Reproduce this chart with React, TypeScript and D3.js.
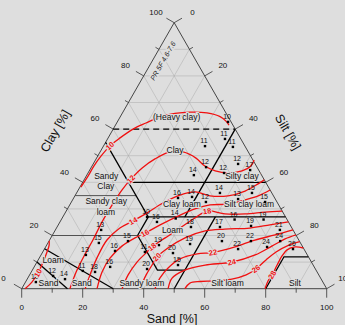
import React, { useEffect, useRef } from 'react';
import * as d3 from 'd3';

// every ternary point is [clay %, silt %]; sand = 100 - clay - silt

const tickValues = d3.range(0, 101, 10);
const gridValues = d3.range(10, 100, 10);
const sandTickLabels = ['100', '80', '60', '40', '20', '0'];
const clayTickLabels = ['0', '20', '40', '60', '80', '100'];
const siltTickLabels = ['0', '20', '40', '60', '80', '100'];

// texture class borders
const classBorders = [
  [[0, 15], [10, 0]],
  [[0, 30], [15, 0]],
  [[20, 28], [7, 41], [7, 50]],
  [[0, 50], [27, 50]],
  [[20, 28], [27, 28], [55, 0]],
  [[27, 28], [27, 73]],
  [[40, 15], [40, 60]],
  [[60, 40], [27, 40]],
  [[0, 80], [12, 80], [12, 88]],
];
const thinBorders = [
  [[20, 0], [20, 28]],
  [[35, 0], [35, 20]],
];
const heavyClayBorder = [[60, 0], [60, 40]];

const classNames = [
  { name: '(Heavy clay)', at: [64.4, 18.6] },
  { name: 'Clay', at: [52.0, 24.3] },
  { name: 'Silty clay', at: [42.2, 51.1] },
  { name: 'Sandy', at: [42.4, 6.5] },
  { name: 'Clay', at: [38.6, 8.3] },
  { name: 'Sandy clay', at: [33.0, 11.2] },
  { name: 'loam', at: [28.8, 13.2] },
  { name: 'Clay loam', at: [31.9, 36.6] },
  { name: 'Silt clay loam', at: [31.7, 58.7] },
  { name: 'Loam', at: [22.1, 38.4] },
  { name: 'Loam', at: [10.8, 4.9] },
  { name: 'Sand', at: [2.0, 7.8] },
  { name: 'Sand', at: [2.0, 18.7] },
  { name: 'Sandy loam', at: [2.0, 38.4] },
  { name: 'Silt loam', at: [2.0, 66.5] },
  { name: 'Silt', at: [2.0, 88.6] },
];

// isolines, label = index of the vertex carrying the number
const isolines = [
  { level: 10, label: [4], pts: [[38.2, 0.3], [42.4, 0.6], [46.1, 0.6], [49.9, 1.1], [53.7, 2.1], [56.7, 3.9], [60.0, 6.5], [62.3, 9.6], [64.6, 13.1], [65.9, 17.3], [66.4, 22.0], [66.1, 27.7], [64.7, 32.7], [62.9, 35.6], [61.5, 37.2]] },
  { level: 10, label: [2], pts: [[0, 1.1], [2.5, 2.1], [5.9, 2.4], [10.0, 2.0], [13.8, 1.4], [16.4, 0.8], [18, 0]] },
  { level: 12, label: [7], pts: [[0, 15.8], [6.3, 14.7], [12.3, 14.3], [18.3, 14.2], [25.1, 13.8], [31.5, 13.9], [37.1, 14.3], [41.2, 15.2], [45.4, 16.8], [48.8, 19.3], [51.4, 22.9], [51.4, 27.2], [49.1, 32.6], [46.1, 37.0], [44.3, 41.3], [43.5, 45.9], [44.3, 50.1], [46.1, 52.1], [48.4, 52.0]] },
  { level: 14, label: [5], pts: [[0, 20.8], [5.2, 19.8], [11.5, 18.9], [18.3, 18.8], [22.8, 20.8], [25.5, 23.8], [28.5, 26.9], [32.2, 30.2], [35.2, 34.3], [36.4, 38.7], [34.9, 44.3], [34.9, 50.2], [36.7, 54.9], [39.4, 57.8], [40.9, 59.1]] },
  { level: 16, label: [5], pts: [[0, 24.7], [6.3, 23.2], [11.5, 23.2], [16.1, 24.9], [19.1, 27.6], [20.9, 30.0], [24.0, 33.4], [27.3, 37.6], [30.0, 41.8], [31.5, 46.0], [31.8, 51.7], [33.4, 56.5], [34.9, 60.1], [37.1, 62.9]] },
  { level: 18, label: [4, 8], pts: [[0, 32.9], [5.2, 32.3], [10.0, 32.8], [13.1, 33.9], [15.7, 34.9], [19.1, 37.5], [22.8, 40.5], [26.6, 43.5], [29.2, 46.2], [28.1, 52.6], [28.1, 59.2], [28.8, 65.4], [29.2, 70.8]] },
  { level: 20, label: [3], pts: [[0, 38.8], [5.2, 38.2], [8.9, 38.3], [11.9, 38.4], [15.3, 40.3], [19.1, 44.0], [21.7, 49.3], [22.4, 55.4], [22.8, 63.4], [24.0, 69.4], [25.1, 74.9]] },
  { level: 22, label: [5], pts: [[0, 43.7], [4.0, 43.3], [7.8, 44.1], [11.2, 46.3], [13.1, 51.0], [13.6, 55.9], [15.7, 62.1], [18.3, 67.3], [20.2, 73.0], [22.1, 77.9]] },
  { level: 24, label: [4], pts: [[0, 48.0], [4.0, 47.3], [7.0, 50.0], [8.9, 55.7], [10.0, 63.9], [12.7, 70.2], [16.1, 74.1], [18.7, 77.0], [20.2, 79.8]] },
  { level: 26, label: [6], pts: [[0, 53.5], [2.1, 54.1], [2.7, 57.1], [2.9, 61.9], [3.6, 67.1], [5.2, 71.0], [7.4, 73.1], [10.8, 74.7], [13.8, 76.5], [16.4, 79.4], [17.7, 82.3]] },
  { level: 28, label: [2], pts: [[0, 79.8], [2.9, 79.3], [5.2, 79.5], [8.9, 79.3], [12.3, 79.2], [14.6, 79.7], [15.7, 81.8], [15.3, 84.7]] },
];

// sample sites: clay, silt, measured value
const samples = [
  [62.7, 36.3, 10], [53.6, 33.3, 11], [56.3, 38.5, 11], [53.3, 42.6, 11], [45.7, 37.6, 12],
  [42.7, 35.1, 14], [43.5, 44.6, 12], [46.9, 47.5, 12], [44.6, 52.6, 17], [33.7, 54.1, 13],
  [36.0, 57.5, 15], [32.6, 63.5, 15], [36.0, 47.0, 14], [34.5, 38.6, 14], [34.1, 34.2, 16],
  [32.6, 44.1, 12], [27.0, 27.6, 10], [26.4, 37.3, 14], [25.1, 31.8, 16], [23.2, 43.9, 18],
  [23.2, 53.4, 17], [26.0, 56.8, 16], [26.0, 66.3, 19], [23.6, 63.4, 19], [22.1, 73.6, 21],
  [16.8, 46.8, 19], [17.9, 56.7, 20], [17.9, 66.2, 22], [17.9, 75.8, 24], [14.9, 63.5, 22],
  [15.7, 72.6, 24], [14.9, 81.5, 26], [13.4, 42.9, 20], [8.9, 46.8, 15], [16.4, 36.8, 19],
  [13.8, 33.5, 11], [7.4, 37.4, 20], [17.9, 25.9, 15], [14.2, 23.5, 16], [17.2, 16.7, 15],
  [22.1, 15.0, 13], [12.7, 14.7, 13], [6.7, 16.7, 11], [6.3, 20.9, 18], [8.2, 24.9, 16],
  [4.8, 7.9, 12], [3.6, 12.4, 14], [2.5, 3.4, 10],
];

const note = { text: 'PR 5F 4.6-7.6', at: [85.6, 3.5] };

const BG = '#dedede';
const FONT = 'Liberation Sans, Arial, sans-serif';

export default function App() {
  const svgRef = useRef(null);

  useEffect(() => {
    const width = 345;
    const height = 325;
    const svg = d3.select(svgRef.current);
    svg.selectAll('*').remove();
    svg.attr('width', width).attr('height', height);

    svg.append('rect').attr('width', width).attr('height', height).attr('fill', BG);

    const xs = d3.scaleLinear().domain([0, 100]).range([21.7, 326.7]);
    const ys = d3.scaleLinear().domain([0, 100]).range([288.7, 22.7]);
    const P = (c, s) => [xs(s + c / 2), ys(c)];
    const line = d3.line().x(d => P(d[0], d[1])[0]).y(d => P(d[0], d[1])[1]);
    const smooth = d3.line()
      .x(d => P(d[0], d[1])[0])
      .y(d => P(d[0], d[1])[1])
      .curve(d3.curveCatmullRom.alpha(0.5));

    // grid
    const grid = svg.append('g').attr('stroke', '#ababab').attr('stroke-width', 0.5).attr('fill', 'none');
    gridValues.forEach(k => {
      grid.append('path').attr('d', line([[k, 0], [k, 100 - k]]));
      grid.append('path').attr('d', line([[0, k], [100 - k, k]]));
      grid.append('path').attr('d', line([[0, 100 - k], [100 - k, 0]]));
    });

    // note, with a knock-out so the grid stops at the text
    const np = P(note.at[0], note.at[1]);
    svg.append('text')
      .attr('transform', `translate(${np[0]},${np[1]}) rotate(-60)`)
      .attr('text-anchor', 'middle').attr('dy', '0.35em')
      .style('font-family', FONT).style('font-size', '7px').style('font-style', 'italic')
      .attr('fill', '#222').attr('stroke', BG).attr('stroke-width', 3).attr('paint-order', 'stroke')
      .text(note.text);

    // outline
    svg.append('path')
      .attr('d', line([[0, 0], [0, 100], [100, 0], [0, 0]]))
      .attr('fill', 'none').attr('stroke', '#333').attr('stroke-width', 0.9);

    // borders
    const borders = svg.append('g').attr('fill', 'none');
    thinBorders.forEach(b => borders.append('path').attr('d', line(b)).attr('stroke', '#444').attr('stroke-width', 0.9));
    classBorders.forEach(b => borders.append('path').attr('d', line(b)).attr('stroke', '#000').attr('stroke-width', 1.3));
    borders.append('path').attr('d', line(heavyClayBorder))
      .attr('stroke', '#000').attr('stroke-width', 1.4).attr('stroke-dasharray', '6,4');

    // ticks
    const ticks = svg.append('g').attr('stroke', '#333').attr('stroke-width', 0.8);
    const lab = svg.append('g').style('font-family', FONT).style('font-size', '8px').attr('fill', '#111');
    const nx = Math.cos(Math.PI / 6), ny = Math.sin(Math.PI / 6);
    tickValues.forEach(v => {
      const major = v % 20 === 0;
      const len = major ? 9 : 4;
      // sand (bottom)
      const b = P(0, 100 - v);
      ticks.append('line').attr('x1', b[0]).attr('y1', b[1]).attr('x2', b[0]).attr('y2', b[1] + len);
      // clay (left)
      const l = P(v, 0);
      ticks.append('line').attr('x1', l[0]).attr('y1', l[1]).attr('x2', l[0] - nx * len).attr('y2', l[1] - ny * len);
      // silt (right)
      const r = P(100 - v, v);
      ticks.append('line').attr('x1', r[0]).attr('y1', r[1]).attr('x2', r[0] + nx * len).attr('y2', r[1] - ny * len);
      if (major) {
        const i = v / 20;
        lab.append('text').attr('x', b[0]).attr('y', b[1] + 21).attr('text-anchor', 'middle')
          .text(sandTickLabels[i]);
        lab.append('text').attr('x', l[0] - nx * 21).attr('y', l[1] - ny * 21).attr('dy', '0.35em')
          .attr('text-anchor', 'middle').text(clayTickLabels[i]);
        lab.append('text').attr('x', r[0] + nx * 21).attr('y', r[1] - ny * 21).attr('dy', '0.35em')
          .attr('text-anchor', 'middle').text(siltTickLabels[i]);
      }
    });

    // axis titles
    const titles = svg.append('g').style('font-family', FONT).style('font-size', '12.5px').attr('fill', '#111')
      .attr('text-anchor', 'middle');
    titles.append('text').attr('x', 172).attr('y', 323).text('Sand [%]');
    titles.append('text').attr('transform', 'translate(55,131) rotate(-60)').attr('dy', '0.35em').text('Clay [%]');
    titles.append('text').attr('transform', 'translate(288,132) rotate(60)').attr('dy', '0.35em').text('Silt [%]');

    // isolines
    const iso = svg.append('g');
    isolines.forEach(c => {
      iso.append('path').attr('d', smooth(c.pts))
        .attr('fill', 'none').attr('stroke', '#f01010').attr('stroke-width', 1.3);
    });

    // class names
    const names = svg.append('g').style('font-family', FONT).style('font-size', '8.5px').attr('fill', '#111')
      .attr('text-anchor', 'middle');
    classNames.forEach(n => {
      const p = P(n.at[0], n.at[1]);
      names.append('text').attr('x', p[0]).attr('y', p[1]).attr('dy', '0.35em')
        .attr('stroke', BG).attr('stroke-width', 2).attr('paint-order', 'stroke').text(n.name);
    });

    // samples
    const pts = svg.append('g');
    samples.forEach(s => {
      const p = P(s[0], s[1]);
      pts.append('rect').attr('x', p[0] - 1.2).attr('y', p[1] - 1.2).attr('width', 2.4).attr('height', 2.4).attr('fill', '#000');
      pts.append('text').attr('x', p[0] - 1).attr('y', p[1] - 3)
        .attr('text-anchor', 'middle')
        .style('font-family', FONT).style('font-size', '7px').attr('fill', '#111')
        .text(s[2]);
    });

    // isoline numbers
    const isoLab = svg.append('g');
    isolines.forEach(c => {
      c.label.forEach(k => {
        const p = P(c.pts[k][0], c.pts[k][1]);
        const a = P(c.pts[Math.max(k - 1, 0)][0], c.pts[Math.max(k - 1, 0)][1]);
        const b = P(c.pts[Math.min(k + 1, c.pts.length - 1)][0], c.pts[Math.min(k + 1, c.pts.length - 1)][1]);
        let ang = Math.atan2(b[1] - a[1], b[0] - a[0]) * 180 / Math.PI;
        if (ang > 90) ang -= 180;
        if (ang < -90) ang += 180;
        isoLab.append('text')
          .attr('transform', `translate(${p[0]},${p[1]}) rotate(${ang})`)
          .attr('text-anchor', 'middle').attr('dy', '0.35em')
          .style('font-family', FONT).style('font-size', '7.5px').style('font-weight', 'bold')
          .attr('fill', '#f01010').attr('stroke', BG).attr('stroke-width', 2).attr('paint-order', 'stroke')
          .text(c.level);
      });
    });
  }, []);

  return (
    <div style={{ position: 'absolute', left: 0, top: 0 }}>
      <svg ref={svgRef} style={{ display: 'block' }}></svg>
    </div>
  );
}
